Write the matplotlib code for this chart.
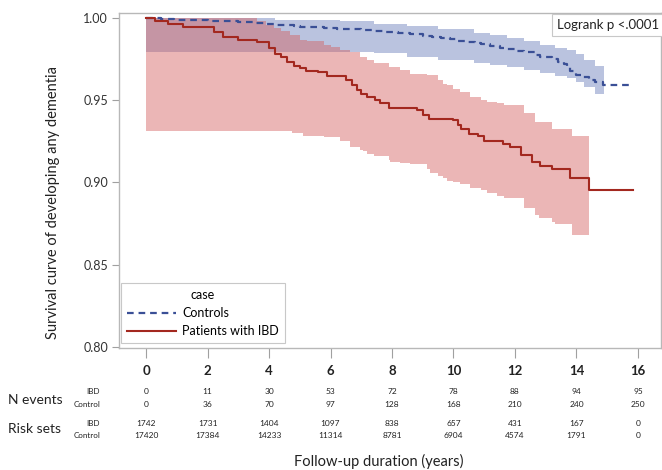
import numpy as np
import matplotlib
matplotlib.use('Agg')
import matplotlib.pyplot as plt
from matplotlib import transforms

plt.rcParams['font.family'] = ['Lato', 'DejaVu Sans']

# Kaplan-Meier step curves (time in years, survival)
ibd_t = [0, 0.3, 0.7, 1.2, 2.2, 2.5, 3.0, 3.6, 4.0, 4.2, 4.4, 4.6, 4.8, 5.0, 5.2, 5.6,
         5.9, 6.5, 6.7, 6.85, 7.0, 7.2, 7.45, 7.6, 7.9, 8.8, 9.0, 9.2, 10.0, 10.15,
         10.25, 10.5, 10.8, 11.0, 11.6, 11.85, 12.2, 12.55, 12.8, 13.2, 13.8, 14.4, 15.85]
ibd_s = [1.000, 0.998, 0.9965, 0.9945, 0.9914, 0.9884, 0.9867, 0.9851, 0.982, 0.978,
         0.976, 0.9735, 0.971, 0.9694, 0.968, 0.9673, 0.9647, 0.962, 0.959, 0.956,
         0.954, 0.952, 0.950, 0.948, 0.9455, 0.9438, 0.941, 0.9388, 0.9377, 0.935,
         0.9326, 0.9296, 0.928, 0.9255, 0.9235, 0.9214, 0.9169, 0.9122, 0.910, 0.9082,
         0.903, 0.8955, 0.8955]

ctl_t = [0, 0.5, 0.9, 1.5, 2.0, 2.5, 3.0, 3.5, 3.9, 4.15, 4.5, 4.8, 5.0, 5.4, 5.8, 6.2,
         6.6, 7.0, 7.4, 7.8, 8.2, 8.6, 9.0, 9.3, 9.6, 9.9, 10.1, 10.4, 10.7, 10.9, 11.2,
         11.5, 11.75, 12.0, 12.3, 12.5, 12.7, 12.83, 13.0, 13.2, 13.4, 13.6, 13.7, 13.8,
         14.0, 14.2, 14.4, 14.6, 14.85, 15.85]
ctl_s = [1.000, 0.9995, 0.999, 0.9986, 0.9983, 0.998, 0.9975, 0.997, 0.9966, 0.996,
         0.9955, 0.995, 0.9945, 0.9943, 0.994, 0.9935, 0.993, 0.9925, 0.992, 0.9915,
         0.991, 0.990, 0.9892, 0.9885, 0.988, 0.987, 0.986, 0.9853, 0.9846, 0.984,
         0.983, 0.982, 0.981, 0.980, 0.9795, 0.979, 0.9775, 0.9765, 0.976, 0.975,
         0.9735, 0.972, 0.970, 0.968, 0.9655, 0.964, 0.9625, 0.961, 0.9595, 0.9595]

# confidence bands
ibd_band_t = [0, 3.4, 3.6, 3.9, 4.15, 4.4, 4.69, 4.75, 5.0, 5.1, 5.23, 5.78, 6.0, 6.32,
              6.64, 6.97, 7.07, 7.19, 7.4, 7.9, 7.95, 8.27, 8.6, 8.7, 9.14, 9.25, 9.5,
              9.67, 9.8, 10.0, 10.2, 10.55, 10.9, 11.1, 11.4, 11.64, 12.3, 12.65, 12.78,
              13.2, 13.3, 13.86, 14.4]
ibd_hi = [1.000, 1.000, 0.998, 0.996, 0.9939, 0.992, 0.9898, 0.9898, 0.9867, 0.9867,
          0.9857, 0.9837, 0.9826, 0.9806, 0.9796, 0.9765, 0.9765, 0.9745, 0.9724, 0.970,
          0.970, 0.9683, 0.966, 0.966, 0.9653, 0.9653, 0.962, 0.960, 0.959, 0.957, 0.955,
          0.952, 0.950, 0.949, 0.948, 0.9469, 0.942, 0.937, 0.937, 0.9326, 0.9326,
          0.9285, 0.9285]
ibd_lo = [0.9312, 0.9312, 0.9312, 0.9312, 0.9312, 0.9312, 0.9312, 0.930, 0.930, 0.9285,
          0.9285, 0.9275, 0.9275, 0.925, 0.9214, 0.9195, 0.919, 0.9173, 0.916, 0.9135,
          0.9122, 0.9118, 0.9115, 0.9112, 0.908, 0.906, 0.904, 0.9025, 0.901, 0.900,
          0.899, 0.8969, 0.8955, 0.8938, 0.892, 0.8908, 0.8846, 0.880, 0.8785, 0.876,
          0.8745, 0.8683, 0.8683]

ctl_band_t = [0, 4.2, 5.3, 6.3, 7.4, 8.49, 9.5, 10.66, 11.2, 11.75, 12.3, 12.83, 13.3,
              13.7, 14.0, 14.24, 14.6, 14.9]
ctl_hi = [1.000, 0.999, 0.9985, 0.998, 0.9965, 0.9949, 0.993, 0.9908, 0.9895, 0.9878,
          0.986, 0.9837, 0.982, 0.9806, 0.978, 0.9745, 0.971, 0.968]
ctl_lo = [0.9796, 0.9796, 0.9796, 0.9796, 0.9786, 0.9765, 0.9745, 0.9724, 0.9715,
          0.9704, 0.9685, 0.9663, 0.965, 0.9633, 0.961, 0.9581, 0.954, 0.951]

# risk table
years = [0, 2, 4, 6, 8, 10, 12, 14, 16]
events_ibd = [0, 11, 30, 53, 72, 78, 88, 94, 95]
events_ctl = [0, 36, 70, 97, 128, 168, 210, 240, 250]
risk_ibd = [1742, 1731, 1404, 1097, 838, 657, 431, 167, 0]
risk_ctl = [17420, 17384, 14233, 11314, 8781, 6904, 4574, 1791, 0]

W, H = 662, 470
fig = plt.figure(figsize=(W / 100, H / 100), dpi=100)
ax = fig.add_axes([119 / W, 1 - 348 / H, 542 / W, 335 / H])

blue = '#3a4f96'
red = '#a3281f'

ax.fill_between(ctl_band_t, ctl_lo, ctl_hi, step='post', color='#667ab8', alpha=0.45, lw=0)
ax.fill_between(ibd_band_t, ibd_lo, ibd_hi, step='post', color='#d35d5d', alpha=0.45, lw=0)
ax.step(ctl_t, ctl_s, where='post', color=blue, lw=1.6, ls=(0, (3, 2.2)), label='Controls')
ax.step(ibd_t, ibd_s, where='post', color=red, lw=1.5, label='Patients with IBD')

ax.set_xlim(-0.88, 16.75)
ax.set_ylim(0.7994, 1.003)
ax.set_xticks(years)
ax.set_yticks([0.80, 0.85, 0.90, 0.95, 1.00])
ax.set_yticklabels(['0.80', '0.85', '0.90', '0.95', '1.00'], fontsize=9, color='#333333')
ax.set_xticklabels([str(y) for y in years], fontsize=9.5, fontweight='bold', color='#222222')
ax.tick_params(axis='x', length=7, color='#a0a0a0', pad=5)
ax.tick_params(axis='y', length=5, color='#a0a0a0', pad=3)
for s in ax.spines.values():
    s.set_color('#b8b8b8')
    s.set_linewidth(1.0)

leg = ax.legend(loc='lower left', bbox_to_anchor=(0.004, 0.015), borderaxespad=0,
                title='case', fontsize=9, title_fontsize=9, handlelength=3.9,
                handletextpad=0.55, labelspacing=0.5, fancybox=False, framealpha=1,
                edgecolor='#c8c8c8', borderpad=0.45)
leg.get_frame().set_linewidth(0.8)

ax.text(0.996, 0.982, 'Logrank p <.0001', transform=ax.transAxes, ha='right', va='top',
        fontsize=9.5, color='#222222',
        bbox=dict(boxstyle='square,pad=0.35', fc='white', ec='#c8c8c8', lw=0.8))

fig.text(53 / W, 1 - 202 / H, 'Survival curve of developing any dementia', rotation=90,
         ha='center', va='center', fontsize=10.5, color='#222222')

# number-at-risk table below the axes
tr = transforms.blended_transform_factory(ax.transData, fig.transFigure)
rows = [(events_ibd, 391), (events_ctl, 404.5), (risk_ibd, 423.5), (risk_ctl, 435.5)]
for vals, py in rows:
    for x, v in zip(years, vals):
        ax.text(x, 1 - py / H, str(v), transform=tr, ha='center', va='center',
                fontsize=6, color='#222222', clip_on=False)

for lab, py in [('IBD', 391), ('Control', 404.5), ('IBD', 423.5), ('Control', 435.5)]:
    fig.text(100 / W, 1 - py / H, lab, ha='right', va='center', fontsize=5.8, color='#222222')
fig.text(8 / W, 1 - 400 / H, 'N events', ha='left', va='center', fontsize=10, color='#222222')
fig.text(8 / W, 1 - 429 / H, 'Risk sets', ha='left', va='center', fontsize=10, color='#222222')
fig.text(379 / W, 1 - 461 / H, 'Follow-up duration (years)', ha='center', va='center',
         fontsize=10.5, color='#222222')

fig.savefig('out.png', dpi=100)
